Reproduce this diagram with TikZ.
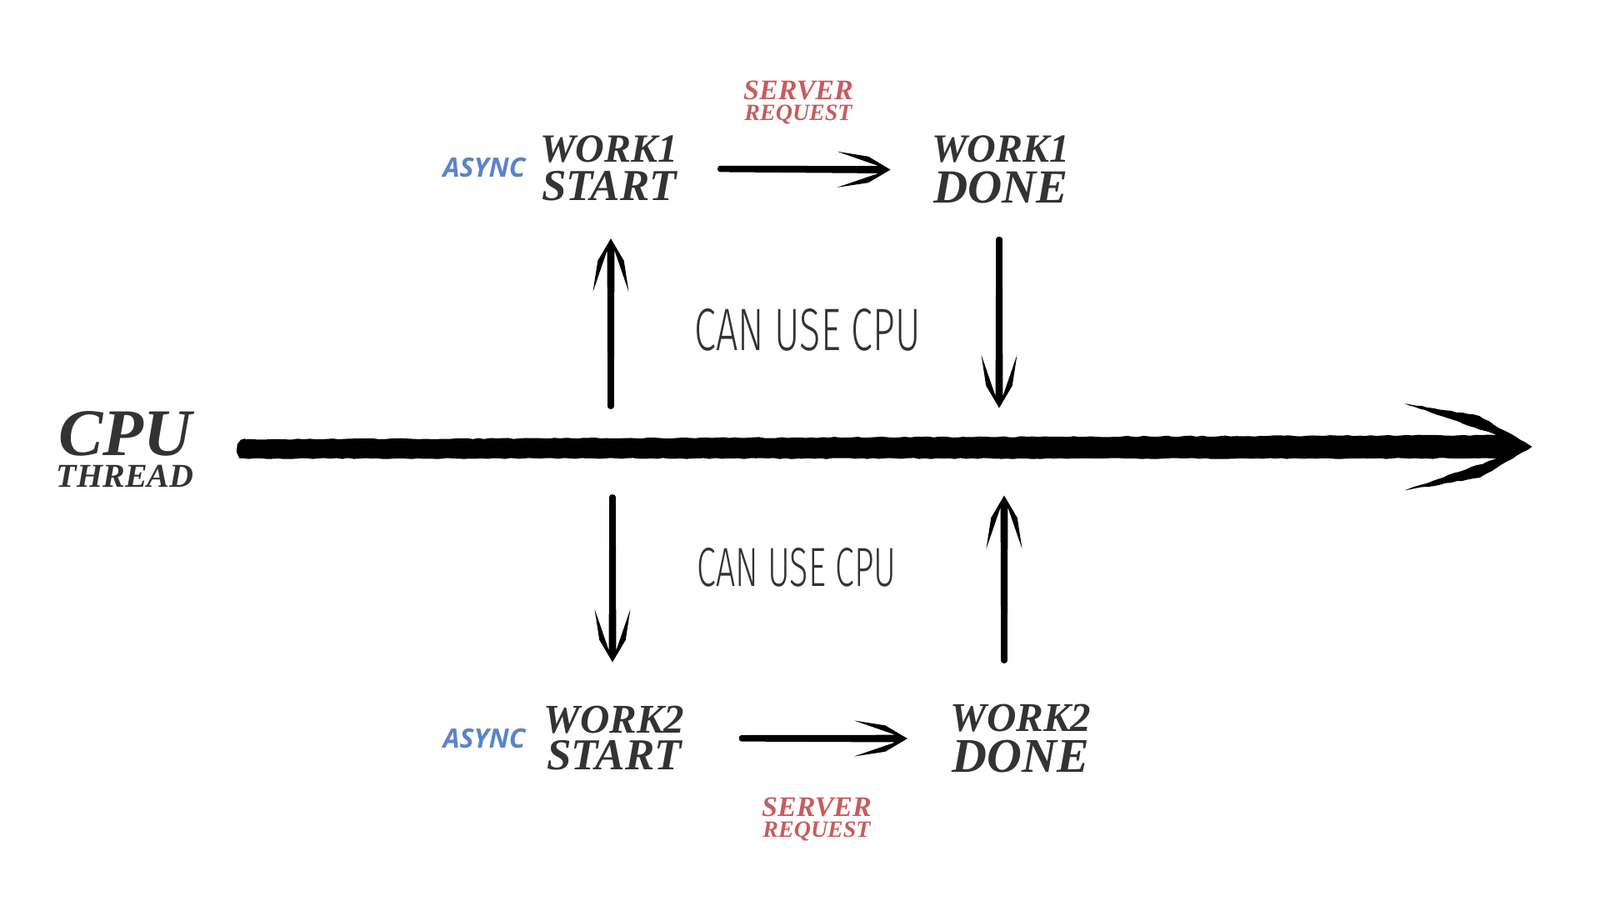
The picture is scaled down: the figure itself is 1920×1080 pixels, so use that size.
\documentclass[tikz,border=0pt]{standalone}
\usepackage{fontspec}
\usepackage{graphicx}
\setmainfont{Liberation Serif}
\newfontfamily\asyncfont{Open Sans}
\newfontfamily\thinfont{Fira Sans Light}
\usetikzlibrary{calc,decorations.pathmorphing}
\definecolor{txt}{HTML}{333333}
\definecolor{req}{HTML}{C85C5C}
\definecolor{asy}{HTML}{5A84C9}
\definecolor{ink}{HTML}{000000}
% two centred lines: size1, text1, size2, text2, baseline distance
\newcommand\twoline[5]{\vbox{\baselineskip=#5pt\lineskiplimit=-200pt\lineskip=0pt%
  \halign{\hfil##\hfil\cr\fontsize{#1}{#1}\selectfont #2\cr\fontsize{#3}{#3}\selectfont #4\cr}}}
\tikzset{
  bh1/.store in=\brushHa, bh2/.store in=\brushHb, bl/.store in=\brushL,
  ba/.store in=\brushA, bb/.store in=\brushB, bss/.store in=\brushSS, bst/.store in=\brushST,
  bh1=3.8pt, bh2=4.4pt, bl=66pt, ba=19, bb=32, bss=0pt, bst=0pt,
  brush/.style={fill=ink, to path={
    ($(\tikztostart)!\brushSS!(\tikztotarget)$) coordinate (brushS)
    ($(\tikztotarget)!\brushST!(\tikztostart)$) coordinate (brushT)
    ($(brushS)!\brushHa!90:(brushT)$)
    -- ($(brushT)!{\brushHb/sin(\brushA)}!-\brushA:(brushS)$)
    -- ($(brushT)!\brushL!-\brushA:(brushS)$)
    -- ($(brushT)!{0.45*\brushL}!-\brushB:(brushS)$)
    -- ($(brushT)!-1.5pt!(brushS)$)
    -- ($(brushT)!{0.45*\brushL}!\brushB:(brushS)$)
    -- ($(brushT)!\brushL!\brushA:(brushS)$)
    -- ($(brushT)!{\brushHb/sin(\brushA)}!\brushA:(brushS)$)
    -- ($(brushS)!\brushHa!-90:(brushT)$)
    .. controls ($(brushS)!{1.4*\brushHa}!-135:(brushT)$) and ($(brushS)!{1.4*\brushHa}!135:(brushT)$)
    .. ($(brushS)!\brushHa!90:(brushT)$) -- cycle
  }},
  rough/.style={decorate, decoration={random steps, segment length=7pt, amplitude=0.7pt}},
  lbl/.style={text=txt, font=\bfseries\itshape, inner sep=0pt, anchor=north},
  reqlbl/.style={lbl, text=req},
  asynclbl/.style={text=asy, font=\asyncfont\bfseries\itshape\fontsize{32}{34}\selectfont, inner sep=0pt, anchor=center},
  canlbl/.style={text=txt, font=\thinfont, inner sep=0pt, anchor=center}
}
\begin{document}
\begin{tikzpicture}[x=1pt,y=-1pt]
\useasboundingbox (0,0) rectangle (1920,1080);
\fill[white] (0,0) rectangle (1920,1080);

% labels
\node[lbl] (cpu) at (150,493) {\twoline{80}{CPU}{40}{THREAD}{38}};
\node[lbl] (w1s) at (731,163) {\twoline{48}{WORK1}{53}{START}{46}};
\node[lbl] (w1d) at (1201,163) {\twoline{48}{WORK1}{57}{DONE}{49}};
\node[lbl] (w2s) at (737,847) {\twoline{49}{WORK2}{53}{START}{44}};
\node[lbl] (w2d) at (1225,845) {\twoline{49}{WORK2}{58}{DONE}{49}};
\node[reqlbl] (req1) at (958,97) {\twoline{34}{SERVER}{28}{REQUEST}{25}};
\node[reqlbl] (req2) at (980,957) {\twoline{34}{SERVER}{28}{REQUEST}{25}};
\node[asynclbl] (as1) at (581,201) {ASYNC};
\node[asynclbl] (as2) at (581,886) {ASYNC};
\node[canlbl] (can1) at (969,396) {\resizebox{271pt}{50pt}{CAN USE CPU}};
\node[canlbl] (can2) at (956,681) {\resizebox{239pt}{46pt}{CAN USE CPU}};

% points on the thread
\coordinate (tend) at (1837,536);
\coordinate (m1) at (733,488);
\coordinate (m2) at (1199,488);
\coordinate (m3) at (735,596);
\coordinate (m4) at (1205,596);

% CPU thread
\fill[brush, rough, bh1=11.5pt, bh2=14pt, bl=160pt, ba=19, bb=31, bss=62pt] (cpu.east) to (tend);

% work arrows
\fill[brush] (m1) to ([yshift=-46pt]w1s.south -| m1);
\fill[brush] ([yshift=-42pt]w1d.south -| m2) to (m2);
\fill[brush] (m3) to ([yshift=54pt]w2s.north -| m3);
\fill[brush] ([yshift=52pt]w2d.north -| m4) to (m4);
\fill[brush, bss=50pt, bst=51pt] (w1s.east) to (w1d.west);
\fill[brush, bss=68pt, bst=53pt] (w2s.east) to (w2d.west);
\end{tikzpicture}
\end{document}
